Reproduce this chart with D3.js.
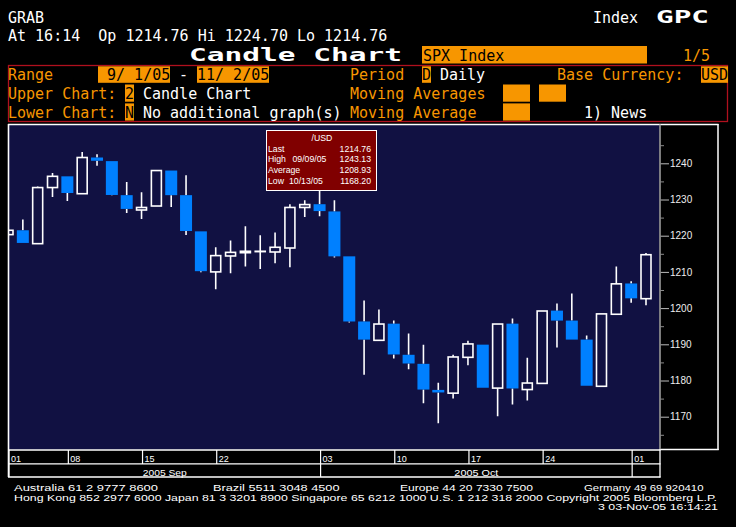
<!DOCTYPE html>
<html>
<head>
<meta charset="utf-8">
<script src="https://cdn.jsdelivr.net/npm/d3@7"></script>
<style>
  html, body { margin: 0; padding: 0; background: #000; }
  svg { display: block; }
</style>
</head>
<body>
<svg id="chart" width="736" height="527"></svg>
<script>
// ---------------- DATA ----------------
const dates = ["2005-09-01","2005-09-02","2005-09-06","2005-09-07","2005-09-08","2005-09-09",
  "2005-09-12","2005-09-13","2005-09-14","2005-09-15","2005-09-16",
  "2005-09-19","2005-09-20","2005-09-21","2005-09-22","2005-09-23",
  "2005-09-26","2005-09-27","2005-09-28","2005-09-29","2005-09-30",
  "2005-10-03","2005-10-04","2005-10-05","2005-10-06","2005-10-07",
  "2005-10-10","2005-10-11","2005-10-12","2005-10-13","2005-10-14",
  "2005-10-17","2005-10-18","2005-10-19","2005-10-20","2005-10-21",
  "2005-10-24","2005-10-25","2005-10-26","2005-10-27","2005-10-28",
  "2005-10-31","2005-11-01","2005-11-02"];
const openV  = [1220.3,1221.5,1217.8,1233.3,1236.4,1231.6,1241.6,1240.6,1231.2,1227.1,1228.2,
  1238.0,1231.2,1221.2,1210.0,1214.4,1215.3,1215.6,1215.5,1216.6,1227.8,
  1228.7,1226.7,1214.3,1196.3,1191.1,1195.7,1187.1,1184.6,1177.4,1176.5,
  1186.4,1189.9,1177.9,1195.7,1177.5,1179.2,1199.3,1196.55,1191.3,1178.4,
  1198.3,1206.8,1202.6];
const highV  = [1222.0,1224.5,1233.6,1237.3,1236.4,1243.1,1242.5,1240.6,1234.8,1232.0,1238.0,
  1238.0,1236.7,1221.2,1216.8,1218.7,1222.6,1220.1,1220.9,1228.7,1229.8,
  1233.3,1229.8,1214.3,1202.1,1199.6,1196.6,1193.0,1189.9,1179.4,1187.1,
  1191.0,1189.9,1195.6,1197.1,1186.3,1199.2,1201.3,1204.0,1192.4,1198.4,
  1211.5,1207.4,1215.2];
const lowV   = [1219.5,1218.0,1217.8,1230.7,1229.6,1231.6,1239.3,1231.2,1226.3,1224.6,1228.2,
  1227.9,1220.2,1209.9,1205.2,1209.6,1211.5,1210.8,1212.4,1211.3,1225.2,
  1225.4,1214.0,1196.0,1181.6,1191.1,1186.1,1183.1,1173.7,1168.2,1175.0,
  1184.2,1178.0,1170.1,1173.4,1174.5,1179.2,1189.1,1191.3,1178.55,1178.4,
  1198.3,1201.5,1200.8];
const closeV = [1221.5,1218.0,1233.3,1236.4,1231.8,1241.6,1240.7,1231.25,1227.4,1227.8,1238.0,
  1231.2,1221.3,1210.2,1214.5,1215.4,1215.7,1215.7,1216.8,1227.8,1228.6,
  1226.8,1214.3,1196.3,1191.3,1195.6,1187.2,1184.7,1177.5,1176.7,1186.5,
  1190.1,1178.0,1195.6,1177.8,1179.3,1199.2,1196.55,1191.3,1178.55,1198.4,
  1206.7,1202.7,1214.75];

const yMajorTicks = [1170,1180,1190,1200,1210,1220,1230,1240];
const yMinorTicks = [1165,1175,1185,1195,1205,1215,1225,1235,1245];
const dayTickDates  = ["2005-09-01","2005-09-08","2005-09-15","2005-09-22","2005-10-03","2005-10-10","2005-10-17","2005-10-24","2005-11-01"];
const dayTickLabels = ["01","08","15","22","03","10","17","24","01"];
const monthStarts = ["2005-09-01","2005-10-03","2005-11-01"];
const monthLabels = ["2005 Sep","2005 Oct",""];

const infoRows = [
  {label:"Last", date:"", value:"1214.76"},
  {label:"High", date:"09/09/05", value:"1243.13"},
  {label:"Average", date:"", value:"1208.93"},
  {label:"Low", date:"10/13/05", value:"1168.20"}
];

// ---------------- STYLE ----------------
const ORANGE = "#F79600";
const NAVY = "#111142";
const BLUE = "#0080FF";
const MONO = "'DejaVu Sans Mono', 'Liberation Mono', monospace";
const SANS = "'Liberation Sans', Arial, sans-serif";

const svg = d3.select("#chart");
svg.append("rect").attr("width",736).attr("height",527).attr("fill","#000");

const COL = 9, X0 = 8;
const cx = c => X0 + c*COL;

function mtext(txt, col, base, color, opts={}) {
  const sy = opts.sy !== undefined ? opts.sy : 1.08;
  const t = svg.append("text")
    .attr("transform", `translate(${opts.x!==undefined?opts.x:cx(col)},${base}) scale(1,${sy})`)
    .attr("font-family", MONO)
    .attr("font-size", opts.size || 15)
    .attr("font-weight", opts.bold ? "bold" : "normal")
    .attr("fill", color)
    .attr("xml:space","preserve")
    .style("white-space","pre")
    .text(txt);
  if (opts.len) t.attr("textLength", opts.len).attr("lengthAdjust","spacingAndGlyphs");
  return t;
}
function obox(col, ncols, top, h) {
  svg.append("rect").attr("x", cx(col)).attr("y", top).attr("width", ncols*COL).attr("height", h).attr("fill", ORANGE);
}

// ---------------- HEADER ----------------
mtext("GRAB", 0, 22.7, "#fff");
mtext("Index", 65, 22.7, "#fff");
mtext("GPC", 72, 22.7, "#fff", {bold:true, size:17, len:53});
mtext("At 16:14  Op 1214.76 Hi 1224.70 Lo 1214.76", 0, 41.3, "#fff", {sy:1});
mtext("Candle Chart", 20, 61.2, "#fff", {bold:true, size:17.5, len:213, x:189, sy:1});
obox(46, 25, 46, 17.5);
mtext("SPX Index", 46, 60.5, "#000", {x:423, sy:1});
mtext("1/5", 75, 60.5, ORANGE, {sy:1});

svg.append("rect").attr("x",8.5).attr("y",65.5).attr("width",719).attr("height",56)
  .attr("fill","none").attr("stroke","#B0101E").attr("stroke-width",1.3);

// Row: Range
obox(10, 8, 66.3, 16.5);
obox(21, 8, 66.3, 16.5);
obox(46, 1, 66.3, 16.5);
obox(77, 3, 66.3, 16.5);
mtext("Range", 0, 80, ORANGE);
mtext(" 9/ 1/05", 10, 80, "#000");
mtext("-", 19, 80, "#fff");
mtext("11/ 2/05", 21, 80, "#000");
mtext("Period", 38, 80, ORANGE);
mtext("D", 46, 80, "#000");
mtext("Daily", 48, 80, "#fff");
mtext("Base Currency:", 61, 80, ORANGE);
mtext("USD", 77, 80, "#000");

// Row: Upper chart
obox(13, 1, 84.5, 17.2);
obox(55, 3, 84.5, 17.2);
obox(59, 3, 84.5, 17.2);
mtext("Upper Chart:", 0, 99, ORANGE);
mtext("2", 13, 99, "#000");
mtext("Candle Chart", 15, 99, "#fff");
mtext("Moving Averages", 38, 99, ORANGE);

// Row: Lower chart
obox(13, 1, 103.4, 17.2);
obox(55, 3, 103.4, 17.2);
mtext("Lower Chart:", 0, 117.8, ORANGE);
mtext("N", 13, 117.8, "#000");
mtext("No additional graph(s)", 15, 117.8, "#fff");
mtext("Moving Average", 38, 117.8, ORANGE);
mtext("1) News", 64, 117.8, "#fff");

// ---------------- PLOT ----------------
const PL = 8, PR = 660, PT = 125, PB = 449.5;
const x = d3.scalePoint().domain(dates).range([8, 646]);
const y = d3.scaleLinear().domain([1160, 1250]).range([452.9, 127.1]);

svg.append("rect").attr("x",PL).attr("y",PT).attr("width",PR-PL).attr("height",PB-PT).attr("fill",NAVY);

svg.append("clipPath").attr("id","plotclip").append("rect")
  .attr("x",PL).attr("y",PT).attr("width",PR-PL).attr("height",PB-PT);

const candles = dates.map((d,i)=>({d, o:openV[i], h:highV[i], l:lowV[i], c:closeV[i]}));
const cg = svg.append("g").attr("clip-path","url(#plotclip)");

// wicks
candles.forEach(k=>{
  const top = Math.max(k.o,k.c), bot = Math.min(k.o,k.c);
  const xc = x(k.d);
  if (k.h > top) cg.append("line").attr("x1",xc).attr("x2",xc).attr("y1",y(k.h)).attr("y2",y(top))
      .attr("stroke","#fff").attr("stroke-width",1.6);
  if (k.l < bot) cg.append("line").attr("x1",xc).attr("x2",xc).attr("y1",y(bot)).attr("y2",y(k.l))
      .attr("stroke","#fff").attr("stroke-width",1.6);
});
// bodies
cg.selectAll("rect.down").data(candles.filter(k=>k.c < k.o)).enter().append("rect")
  .attr("class","down")
  .attr("x",k=>x(k.d)-6).attr("width",12)
  .attr("y",k=>y(k.o)).attr("height",k=>Math.max(1.5, y(k.c)-y(k.o)))
  .attr("fill",BLUE);
cg.selectAll("rect.up").data(candles.filter(k=>k.c >= k.o)).enter().append("rect")
  .attr("class","up")
  .attr("x",k=>x(k.d)-5).attr("width",10)
  .attr("y",k=>y(k.c)).attr("height",k=>Math.max(0.3, y(k.o)-y(k.c)))
  .attr("fill",NAVY).attr("stroke","#fff").attr("stroke-width",1.6);

// frame lines
svg.append("line").attr("x1",8).attr("x2",718.5).attr("y1",124.5).attr("y2",124.5).attr("stroke","#fff").attr("stroke-width",1.3);
svg.append("line").attr("x1",8.5).attr("x2",8.5).attr("y1",124).attr("y2",477).attr("stroke","#fff").attr("stroke-width",1.6);
svg.append("line").attr("x1",718).attr("x2",718).attr("y1",124).attr("y2",450).attr("stroke","#fff").attr("stroke-width",1.5);
svg.append("line").attr("x1",660).attr("x2",718.7).attr("y1",449.5).attr("y2",449.5).attr("stroke","#fff").attr("stroke-width",1.3);

// y axis
const axisG = svg.append("g").attr("transform",`translate(${PR},0)`);
axisG.append("g").call(d3.axisRight(y).tickValues(yMinorTicks).tickSize(4).tickFormat(""))
  .call(g=>{g.select(".domain").remove(); g.selectAll("line").attr("stroke","#8a8a8a");});
axisG.append("g").call(d3.axisRight(y).tickValues(yMajorTicks).tickSize(9).tickPadding(1).tickFormat(d3.format("d")))
  .call(g=>{
    g.select(".domain").remove();
    g.selectAll("line").attr("stroke","#bbbbbb");
    g.selectAll("text").attr("fill","#eeeeee").attr("font-family",SANS).attr("font-size",10);
  });
svg.append("line").attr("x1",PR).attr("x2",PR).attr("y1",124.5).attr("y2",449.5).attr("stroke","#8a8a8a").attr("stroke-width",1.8);

// info box
const ib = svg.append("g");
ib.append("rect").attr("x",266.5).attr("y",130.5).attr("width",110).attr("height",60)
  .attr("fill","#800000").attr("stroke","#fff").attr("stroke-width",1);
ib.append("text").attr("x",322).attr("y",140.5).attr("text-anchor","middle")
  .attr("font-family",SANS).attr("font-size",8.7).attr("fill","#fff").text("/USD");
const infoBase = [151.5, 162.2, 173, 183.8];
const infoDateX = [0, 292.5, 0, 289];
infoRows.forEach((r,i)=>{
  ib.append("text").attr("x",268).attr("y",infoBase[i]).attr("font-family",SANS).attr("font-size",8.7).attr("fill","#fff").text(r.label);
  if (r.date) ib.append("text").attr("x",infoDateX[i]).attr("y",infoBase[i]).attr("font-family",SANS).attr("font-size",8.7).attr("fill","#fff").text(r.date);
  ib.append("text").attr("x",371).attr("y",infoBase[i]).attr("text-anchor","end").attr("font-family",SANS).attr("font-size",8.7).attr("fill","#fff").text(r.value);
});

// ---------------- DATE ROWS ----------------
const dg = svg.append("g");
[450, 463.8, 477].forEach(yy=>{
  dg.append("line").attr("x1",8).attr("x2",660.5).attr("y1",yy).attr("y2",yy).attr("stroke","#fff").attr("stroke-width",1.3);
});
dg.append("line").attr("x1",660).attr("x2",660).attr("y1",449).attr("y2",477.5).attr("stroke","#fff").attr("stroke-width",1.3);
dayTickDates.forEach((d,i)=>{
  const xx = Math.max(8.5, x(d)+1);
  dg.append("line").attr("x1",xx).attr("x2",xx).attr("y1",450).attr("y2",464).attr("stroke","#fff").attr("stroke-width",1.2);
  dg.append("text").attr("x",xx+2).attr("y",461.5).attr("font-family",SANS).attr("font-size",9)
    .attr("fill","#fff").text(dayTickLabels[i]);
});
monthStarts.forEach((d,i)=>{
  const xs = Math.max(8.5, x(d)+1);
  const xe = i < monthStarts.length-1 ? x(monthStarts[i+1])+1 : 660;
  dg.append("line").attr("x1",xs).attr("x2",xs).attr("y1",464).attr("y2",477).attr("stroke","#fff").attr("stroke-width",1.2);
  if (monthLabels[i]) dg.append("text").attr("x",(xs+xe)/2).attr("y",476).attr("text-anchor","middle")
    .attr("font-family",SANS).attr("font-size",9).attr("fill","#fff")
    .attr("textLength",44).attr("lengthAdjust","spacingAndGlyphs").text(monthLabels[i]);
});

// ---------------- FOOTER ----------------
function ftext(txt, xx, yy, len, anchor) {
  svg.append("text").attr("x",xx).attr("y",yy).attr("font-family",SANS).attr("font-size",9.2)
    .attr("fill","#fff").attr("text-anchor",anchor||"start")
    .attr("textLength",len).attr("lengthAdjust","spacingAndGlyphs").text(txt);
}
ftext("Australia 61 2 9777 8600", 14, 490.8, 144);
ftext("Brazil 5511 3048 4500", 213, 490.8, 126.5);
ftext("Europe 44 20 7330 7500", 400, 490.8, 133);
ftext("Germany 49 69 920410", 584, 490.8, 119.5);
ftext("Hong Kong 852 2977 6000 Japan 81 3 3201 8900 Singapore 65 6212 1000 U.S. 1 212 318 2000 Copyright 2005 Bloomberg L.P.", 14, 500.5, 703);
ftext("3 03-Nov-05 16:14:21", 598, 509.5, 120);
</script>
</body>
</html>
